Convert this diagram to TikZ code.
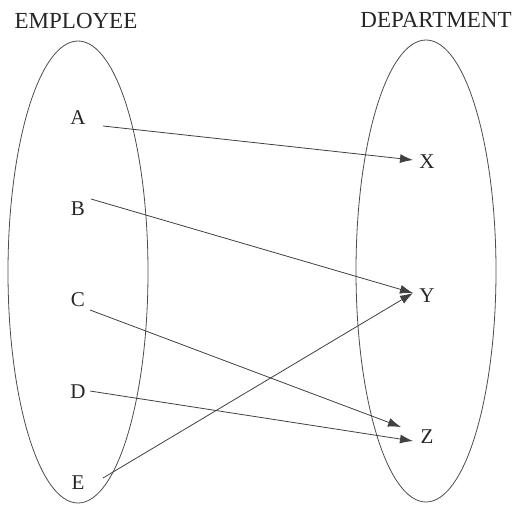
\documentclass[tikz,border=0pt]{standalone}
\usepackage{fontspec}
\setmainfont{Liberation Serif}
\usetikzlibrary{arrows.meta}
\begin{document}
\begin{tikzpicture}[x=1pt,y=-1pt,
  lbl/.style={font=\fontsize{21}{23}\selectfont, text=black!85, inner sep=0pt},
  title/.style={font=\fontsize{23}{25}\selectfont, text=black!85, inner sep=0pt},
  set/.style={draw=black!70, line width=0.8pt},
  arr/.style={draw=black!75, line width=0.8pt, -{Latex[length=13pt,width=9pt]}}]
\useasboundingbox (0,0) rectangle (516,504);
\node[title] (emp) at (76,21) {EMPLOYEE};
\node[title] (dep) at (436,20) {DEPARTMENT};
\draw[set] (78,272) ellipse [x radius=70, y radius=231];
\draw[set] (426,271) ellipse [x radius=70, y radius=231];
\node[lbl] (A) at (78,118) {A};
\node[lbl] (B) at (78,209) {B};
\node[lbl] (C) at (78,300) {C};
\node[lbl] (D) at (78,392) {D};
\node[lbl] (E) at (78,483) {E};
\node[lbl] (X) at (427,162) {X};
\node[lbl] (Y) at (427,296) {Y};
\node[lbl] (Z) at (427,437) {Z};
\coordinate (As) at (103,126);
\coordinate (Bs) at (91,199);
\coordinate (Cs) at (90,310);
\coordinate (Ds) at (90,391);
\coordinate (Es) at (103,478);
\coordinate (Xe) at (413,160);
\coordinate (Ye) at (413,293);
\coordinate (Ze1) at (401,427);
\coordinate (Ze2) at (413,441);
\draw[arr] (As) -- (Xe);
\draw[arr] (Bs) -- (Ye);
\draw[arr] (Cs) -- (Ze1);
\draw[arr] (Ds) -- (Ze2);
\draw[arr] (Es) -- (Ye);
\end{tikzpicture}
\end{document}
